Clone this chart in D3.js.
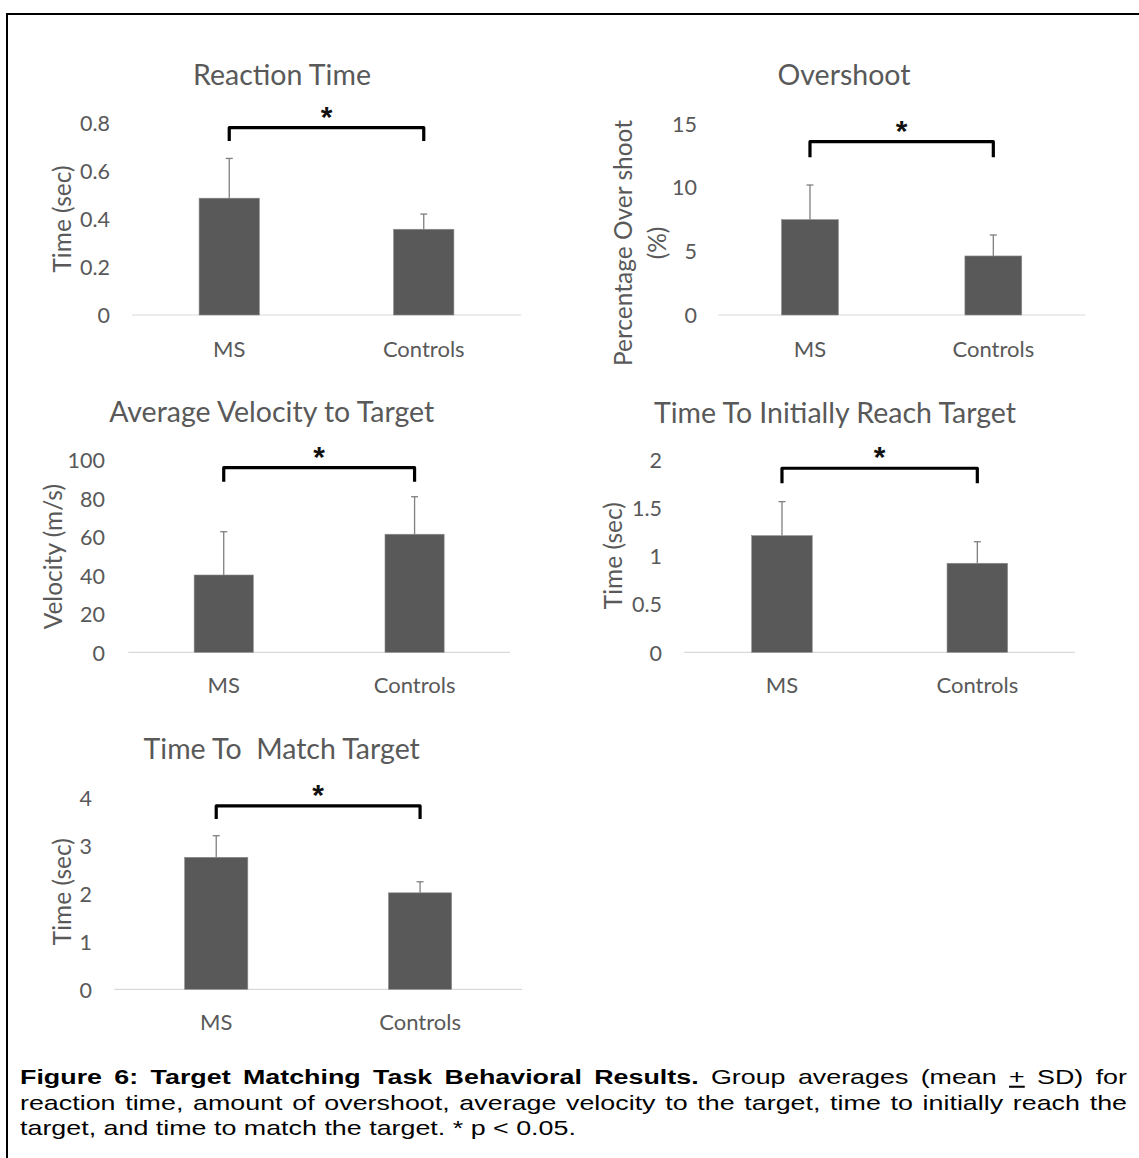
<!DOCTYPE html>
<html>
<head>
<meta charset="utf-8">
<script src="https://cdn.jsdelivr.net/npm/d3@7"></script>
<style>
  html, body { margin: 0; padding: 0; background: #fff; }
  svg { display: block; }
</style>
</head>
<body>
<svg id="fig" width="1139" height="1158"></svg>
<script>
// ---- Data -----------------------------------------------------------------
const groups = ["MS", "Controls"];

const reactionMean = [0.485, 0.356];
const reactionSD   = [0.165, 0.063];
const reactionTicks = [0, 0.2, 0.4, 0.6, 0.8];
const reactionTickLabels = ["0", "0.2", "0.4", "0.6", "0.8"];
const reactionBracket = [0.778, 0.722];

const overshootMean = [7.46, 4.62];
const overshootSD   = [2.71, 1.64];
const overshootTicks = [0, 5, 10, 15];
const overshootTickLabels = ["0", "5", "10", "15"];
const overshootBracket = [13.56, 12.34];

const velocityMean = [40.2, 61.4];
const velocitySD   = [22.5, 19.5];
const velocityTicks = [0, 20, 40, 60, 80, 100];
const velocityTickLabels = ["0", "20", "40", "60", "80", "100"];
const velocityBracket = [96.0, 88.7];

const reachMean = [1.213, 0.926];
const reachSD   = [0.354, 0.224];
const reachTicks = [0, 0.5, 1, 1.5, 2];
const reachTickLabels = ["0", "0.5", "1", "1.5", "2"];
const reachBracket = [1.914, 1.758];

const matchMean = [2.75, 2.01];
const matchSD   = [0.45, 0.23];
const matchTicks = [0, 1, 2, 3, 4];
const matchTickLabels = ["0", "1", "2", "3", "4"];
const matchBracket = [3.82, 3.55];

const panelTitles = [
  "Reaction Time",
  "Overshoot",
  "Average Velocity to Target",
  "Time To Initially Reach Target",
  "Time To  Match Target"
];
const axisTitles = [
  ["Time (sec)"],
  ["Percentage Over shoot", "(%)"],
  ["Velocity (m/s)"],
  ["Time (sec)"],
  ["Time (sec)"]
];
const significance = "*";

// Caption words: [text, style] where style is "b" bold, "u" underlined, "" plain
const captionLine1 = [
  ["Figure", "b"], ["6:", "b"], ["Target", "b"], ["Matching", "b"], ["Task", "b"],
  ["Behavioral", "b"], ["Results.", "b"], ["Group", ""], ["averages", ""],
  ["(mean", ""], ["+", "u"], ["SD)", ""], ["for", ""]
];
const captionLine2 = "reaction time, amount of overshoot, average velocity to the target, time to initially reach the";
const captionLine3 = "target, and time to match the target. * p < 0.05.";

// ---- Layout (pixel placement of each panel) ------------------------------
const layout = [
  { x0: 132,   x1: 521,  yBase: 315,   yTop: 122.3, titleX: 282,   titleY: 85,
    tickRight: 110,  axisX: [62],       axisYc: 219,   catY: 356.5 },
  { x0: 718.3, x1: 1085, yBase: 315,   yTop: 123.3, titleX: 844,   titleY: 85,
    tickRight: 697,  axisX: [623, 657], axisYc: 243,   catY: 356.5 },
  { x0: 128.3, x1: 510,  yBase: 652.3, yTop: 460,   titleX: 271.7, titleY: 422,
    tickRight: 105,  axisX: [53.5],     axisYc: 556.7, catY: 693.3 },
  { x0: 684.3, x1: 1075, yBase: 652.3, yTop: 460,   titleX: 835,   titleY: 422.5,
    tickRight: 662,  axisX: [613.5],    axisYc: 555.7, catY: 693.3 },
  { x0: 114.3, x1: 522,  yBase: 989.3, yTop: 797.3, titleX: 281.7, titleY: 759.3,
    tickRight: 92,   axisX: [62],       axisYc: 891.7, catY: 1030 }
];

const panels = [
  { mean: reactionMean,  sd: reactionSD,  ticks: reactionTicks,  labels: reactionTickLabels,  bracket: reactionBracket },
  { mean: overshootMean, sd: overshootSD, ticks: overshootTicks, labels: overshootTickLabels, bracket: overshootBracket },
  { mean: velocityMean,  sd: velocitySD,  ticks: velocityTicks,  labels: velocityTickLabels,  bracket: velocityBracket },
  { mean: reachMean,     sd: reachSD,     ticks: reachTicks,     labels: reachTickLabels,     bracket: reachBracket },
  { mean: matchMean,     sd: matchSD,     ticks: matchTicks,     labels: matchTickLabels,     bracket: matchBracket }
];

// ---- Styles ---------------------------------------------------------------
const chartFont = "Lato, 'Open Sans', 'Noto Sans', sans-serif";
const textGrey = "#595959";
const barFill = "#595959";

const svg = d3.select("#fig");
svg.append("rect").attr("width", 1139).attr("height", 1158).attr("fill", "#fff");

// Frame lines (top and left edge of the figure box)
svg.append("line").attr("x1", 7).attr("x2", 1139).attr("y1", 14).attr("y2", 14)
  .attr("stroke", "#000").attr("stroke-width", 2);
svg.append("line").attr("x1", 7).attr("x2", 7).attr("y1", 13).attr("y2", 1158)
  .attr("stroke", "#000").attr("stroke-width", 2);

panels.forEach((p, i) => {
  const L = layout[i];
  const g = svg.append("g").attr("class", "panel");

  const x = d3.scaleBand().domain(groups).range([L.x0, L.x1])
    .paddingInner(0.69).paddingOuter(0.345);
  const y = d3.scaleLinear().domain([0, d3.max(p.ticks)]).range([L.yBase, L.yTop]);

  // Title
  g.append("text")
    .attr("x", L.titleX).attr("y", L.titleY)
    .attr("text-anchor", "middle")
    .attr("font-family", chartFont).attr("font-size", 28.5)
    .attr("fill", textGrey)
    .attr("xml:space", "preserve")
    .text(panelTitles[i]);

  // Y tick labels
  const yAxis = d3.axisLeft(y).tickValues(p.ticks).tickSize(0).tickPadding(0)
    .tickFormat((d, k) => p.labels[k]);
  const ya = g.append("g").attr("transform", `translate(${L.tickRight},0)`).call(yAxis);
  ya.select(".domain").remove();
  ya.selectAll("text")
    .attr("font-family", chartFont).attr("font-size", 21.5)
    .attr("fill", textGrey).attr("dy", "0.36em");

  // Baseline
  g.append("line")
    .attr("x1", L.x0).attr("x2", L.x1).attr("y1", y(0)).attr("y2", y(0))
    .attr("stroke", "#d9d9d9").attr("stroke-width", 1.2);

  // Category labels
  g.selectAll("text.cat").data(groups).join("text")
    .attr("class", "cat")
    .attr("x", d => x(d) + x.bandwidth() / 2).attr("y", L.catY)
    .attr("text-anchor", "middle")
    .attr("font-family", chartFont).attr("font-size", 22)
    .attr("fill", textGrey)
    .text(d => d);

  // Y axis title (rotated, possibly two lines)
  axisTitles[i].forEach((t, k) => {
    g.append("text")
      .attr("transform", `translate(${L.axisX[k]},${L.axisYc}) rotate(-90)`)
      .attr("text-anchor", "middle").attr("dy", "0.35em")
      .attr("font-family", chartFont).attr("font-size", 24.5)
      .attr("fill", textGrey)
      .text(t);
  });

  // Error bars (mean + SD)
  const cap = 3.5;
  groups.forEach((gname, k) => {
    const cx = x(gname) + x.bandwidth() / 2;
    const top = y(p.mean[k] + p.sd[k]);
    g.append("line").attr("x1", cx).attr("x2", cx)
      .attr("y1", y(p.mean[k])).attr("y2", top)
      .attr("stroke", "#7f7f7f").attr("stroke-width", 1.3);
    g.append("line").attr("x1", cx - cap).attr("x2", cx + cap)
      .attr("y1", top).attr("y2", top)
      .attr("stroke", "#7f7f7f").attr("stroke-width", 1.3);
  });

  // Bars
  g.selectAll("rect.bar").data(groups).join("rect")
    .attr("class", "bar")
    .attr("x", d => x(d)).attr("width", x.bandwidth())
    .attr("y", (d, k) => y(p.mean[k]))
    .attr("height", (d, k) => y(0) - y(p.mean[k]))
    .attr("fill", barFill)
    .attr("stroke", "#8c8c8c").attr("stroke-width", 0.6);

  // Significance bracket
  const bx1 = x(groups[0]) + x.bandwidth() / 2;
  const bx2 = x(groups[1]) + x.bandwidth() / 2;
  const by = y(p.bracket[0]), bl = y(p.bracket[1]);
  g.append("path")
    .attr("d", `M${bx1},${bl} L${bx1},${by} L${bx2},${by} L${bx2},${bl}`)
    .attr("fill", "none").attr("stroke", "#000").attr("stroke-width", 3.2)
    .attr("stroke-linejoin", "round");
  g.append("text")
    .attr("x", (bx1 + bx2) / 2).attr("y", by - 1)
    .attr("text-anchor", "middle")
    .attr("font-family", "'Liberation Sans', Arial, sans-serif")
    .attr("font-size", 30).attr("font-weight", "bold")
    .attr("fill", "#111")
    .text(significance);
});

// ---- Caption --------------------------------------------------------------
// Typeset word by word; the first two lines are justified to the full width.
const capFont = "'Liberation Sans', Arial, sans-serif";
const capSize = 20.5;
const capStretch = 1.31;
const capLeft = 20, capWidth = 1107;
const capG = svg.append("g")
  .attr("transform", `translate(${capLeft},0) scale(${capStretch},1)`);

function setWords(words, baseline, justify) {
  const nodes = words.map(([t, s]) => capG.append("text")
    .attr("y", baseline)
    .attr("font-family", capFont).attr("font-size", capSize).attr("fill", "#000")
    .attr("font-weight", s === "b" ? "bold" : "normal")
    .attr("text-decoration", s === "u" ? "underline" : null)
    .text(t));
  const widths = nodes.map(n => n.node().getComputedTextLength());
  const total = d3.sum(widths);
  const space = capSize * 0.278;
  const gap = justify ? (capWidth / capStretch - total) / (words.length - 1) : space;
  let cx = 0;
  nodes.forEach((n, k) => { n.attr("x", cx); cx += widths[k] + gap; });
}

setWords(captionLine1, 1084, true);
setWords(captionLine2.split(" ").map(w => [w, ""]), 1110, true);
setWords(captionLine3.split(" ").map(w => [w, ""]), 1135, false);
</script>
</body>
</html>
